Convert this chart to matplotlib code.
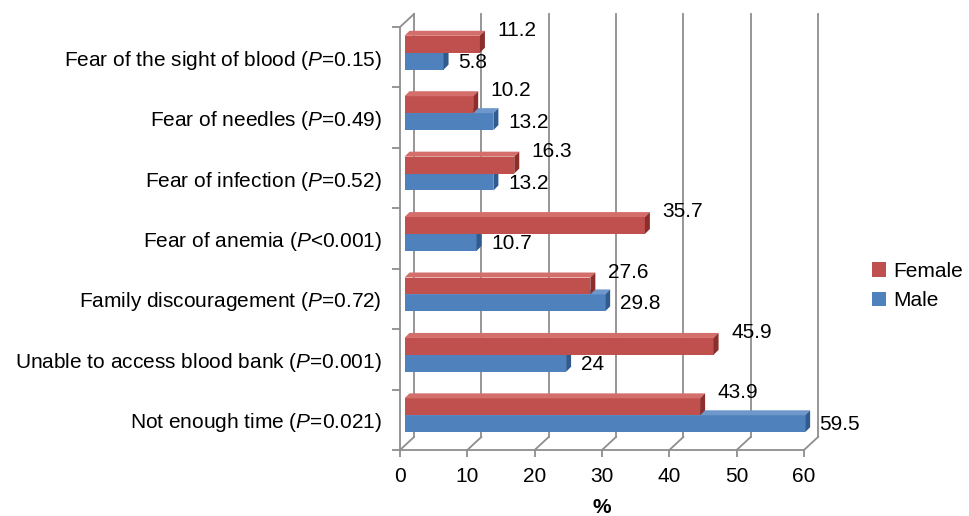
import numpy as np
import matplotlib
matplotlib.use("Agg")
import matplotlib.pyplot as plt
from matplotlib.patches import Polygon, Patch
from matplotlib.transforms import offset_copy

plt.rcParams['font.family'] = ['Liberation Sans', 'DejaVu Sans']
plt.rcParams['mathtext.fontset'] = 'custom'
plt.rcParams['mathtext.rm'] = 'Liberation Sans'
plt.rcParams['mathtext.it'] = 'Liberation Sans:italic'

# ---- data (top to bottom as displayed) ----
categories = ["Fear of the sight of blood", "Fear of needles", "Fear of infection",
              "Fear of anemia", "Family discouragement",
              "Unable to access blood bank", "Not enough time"]
p_values = ["=0.15", "=0.49", "=0.52", "<0.001", "=0.72", "=0.001", "=0.021"]
female = [11.2, 10.2, 16.3, 35.7, 27.6, 45.9, 43.9]
male = [5.8, 13.2, 13.2, 10.7, 29.8, 24, 59.5]
x_ticks = [0, 10, 20, 30, 40, 50, 60]
series_names = ["Female", "Male"]

RED, RED_TOP, RED_SIDE = "#C0504D", "#D46E6A", "#8C2E2B"
BLUE, BLUE_TOP, BLUE_SIDE = "#4F81BD", "#6E97CB", "#2F5B8F"
GRID = "#8E8E8E"

W, H = 969, 516
fig = plt.figure(figsize=(W / 100, H / 100), dpi=100)
ax_l, ax_r, ax_t, ax_b = 400, 804, 27, 450
ax = fig.add_axes([ax_l / W, (H - ax_b) / H, (ax_r - ax_l) / W, (ax_b - ax_t) / H])

n = len(categories)
ax.set_xlim(x_ticks[0], x_ticks[-1])
ax.set_ylim(-0.5, n - 0.5)
ax.set_autoscale_on(False)

sx = (ax_r - ax_l) / (x_ticks[-1] - x_ticks[0])   # px per x-unit
sy = (ax_b - ax_t) / n                              # px per category

# depth settings (pixels)
WALL_DX, WALL_DY = 14, 13
BAR_DX, BAR_DY = 4.5, 4.5
CAP = 5.0
wdx, wdy = WALL_DX / sx, WALL_DY / sy
cdx, cdy = CAP / sx, CAP / sy

bar_tr = offset_copy(ax.transData, fig=fig, x=BAR_DX, y=BAR_DY, units='dots')
wall_tr = offset_copy(ax.transData, fig=fig, x=WALL_DX, y=WALL_DY, units='dots')

# back wall gridlines and floor diagonals
for t in x_ticks:
    ax.plot([t, t], [-0.5, n - 0.5], color=GRID, lw=1.3, transform=wall_tr,
            clip_on=False, zorder=1)
    ax.plot([t, t + wdx], [-0.5, -0.5 + wdy], color=GRID, lw=1.3,
            clip_on=False, zorder=1)
# left wall top diagonal
ax.plot([0, wdx], [n - 0.5, n - 0.5 + wdy], color=GRID, lw=1.3, clip_on=False, zorder=1)

ypos = np.arange(n)[::-1]
h = 0.28

def draw_bars(values, centers, face, top, side):
    ax.barh(centers, values, height=h, color=face, transform=bar_tr,
            zorder=3, clip_on=False, linewidth=0)
    for v, c in zip(values, centers):
        y0, y1 = c - h / 2, c + h / 2
        top_poly = Polygon([(0, y1), (v, y1), (v + cdx, y1 + cdy), (cdx, y1 + cdy)],
                           closed=True, facecolor=top, edgecolor='none',
                           transform=bar_tr, zorder=3, clip_on=False)
        side_poly = Polygon([(v, y0), (v + cdx, y0 + cdy), (v + cdx, y1 + cdy), (v, y1)],
                            closed=True, facecolor=side, edgecolor='none',
                            transform=bar_tr, zorder=3, clip_on=False)
        ax.add_patch(top_poly)
        ax.add_patch(side_poly)

# male (lower) first, then female on top
male_c = ypos - h / 2
female_c = ypos + h / 2
draw_bars(male, male_c, BLUE, BLUE_TOP, BLUE_SIDE)
draw_bars(female, female_c, RED, RED_TOP, RED_SIDE)

# value labels
red_lab_tr = offset_copy(ax.transData, fig=fig, x=22, y=BAR_DY + 5.5, units='dots')
blue_lab_tr = offset_copy(ax.transData, fig=fig, x=19, y=BAR_DY - 1, units='dots')
for v, c in zip(female, female_c):
    ax.text(v, c + h / 2, f"{v:g}", transform=red_lab_tr, ha='left', va='center',
            fontsize=15, color='black', zorder=5, clip_on=False)
for v, c in zip(male, male_c):
    ax.text(v, c, f"{v:g}", transform=blue_lab_tr, ha='left', va='center',
            fontsize=15, color='black', zorder=5, clip_on=False)

# axes styling
for s in ['top', 'right']:
    ax.spines[s].set_visible(False)
for s in ['left', 'bottom']:
    ax.spines[s].set_color(GRID)
    ax.spines[s].set_linewidth(1.3)
ax.set_facecolor('none')

ylabels = [f"{c} ($\\mathit{{P}}${p})" for c, p in zip(categories, p_values)]
ax.set_yticks(ypos)
ax.set_yticklabels(ylabels, fontsize=15)
ax.set_yticks(np.arange(-0.5, n, 1), minor=True)
ax.tick_params(axis='y', which='major', length=0, pad=13)
ax.tick_params(axis='y', which='minor', length=6, color=GRID, width=1.3)

ax.set_xticks(x_ticks)
ax.set_xticklabels([str(t) for t in x_ticks], fontsize=15)
ax.tick_params(axis='x', which='major', length=5, color=GRID, width=1.3, pad=7)
ax.set_xlabel("%", fontsize=15, fontweight='bold', labelpad=9)

handles = [Patch(facecolor=RED, edgecolor='none'), Patch(facecolor=BLUE, edgecolor='none')]
fig.legend(handles, series_names, loc='upper left',
           bbox_to_anchor=(853 / W, 1 - 243 / H), frameon=False, fontsize=15,
           handlelength=0.7, handleheight=0.7, handletextpad=0.35, labelspacing=0.5,
           borderpad=0.4)

fig.savefig("out.png", dpi=100)
